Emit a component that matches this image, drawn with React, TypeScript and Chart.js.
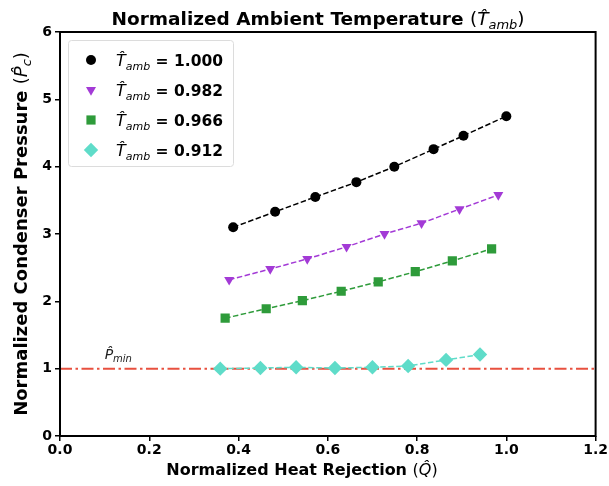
import React, { useEffect, useRef } from "react";
import { Chart, registerables } from "chart.js";

Chart.register(...registerables);

// ---- Data ----
const xTicks = [0.0, 0.2, 0.4, 0.6, 0.8, 1.0, 1.2];
const yTicks = [0, 1, 2, 3, 4, 5, 6];
const legendLabels = ["1.000", "0.982", "0.966", "0.912"];

const s1X = [0.388, 0.482, 0.572, 0.664, 0.749, 0.837, 0.904, 1.0];
const s1Y = [3.1, 3.33, 3.55, 3.77, 4.0, 4.26, 4.46, 4.75];

const s2X = [0.379, 0.471, 0.554, 0.642, 0.727, 0.81, 0.895, 0.982];
const s2Y = [2.32, 2.48, 2.63, 2.81, 3.0, 3.16, 3.37, 3.58];

const s3X = [0.37, 0.462, 0.543, 0.63, 0.713, 0.796, 0.879, 0.967];
const s3Y = [1.75, 1.89, 2.01, 2.15, 2.29, 2.44, 2.6, 2.78];

const s4X = [0.359, 0.449, 0.529, 0.616, 0.7, 0.78, 0.865, 0.941];
const s4Y = [1.0, 1.01, 1.02, 1.01, 1.02, 1.04, 1.13, 1.21];

const pMin = 1.0;

const colors = ["#000000", "#a33ad6", "#2e9b3a", "#5fdcc9"];
const shapes = ["circle", "triangle", "rect", "rectRot"];
const rotations = [0, 180, 0, 0];
const radii = [5, 5.8, 6.5, 7.2];

const FONT = "'DejaVu Sans', sans-serif";

type Piece = { t: string; font: string; dy?: number; color?: string };

function measure(ctx: CanvasRenderingContext2D, pieces: Piece[]) {
  let w = 0;
  for (const p of pieces) {
    ctx.font = p.font;
    w += ctx.measureText(p.t).width;
  }
  return w;
}

function drawRich(
  ctx: CanvasRenderingContext2D,
  pieces: Piece[],
  x: number,
  y: number,
  align: "left" | "center"
) {
  const w = measure(ctx, pieces);
  let cx = align === "center" ? x - w / 2 : x;
  ctx.textBaseline = "alphabetic";
  ctx.textAlign = "left";
  for (const p of pieces) {
    ctx.font = p.font;
    ctx.fillStyle = p.color || "#000";
    ctx.fillText(p.t, cx, y + (p.dy || 0));
    cx += ctx.measureText(p.t).width;
  }
}

function mathVar(base: string, sub: string, size: number, color = "#000"): Piece[] {
  return [
    { t: base + "\u0302", font: `italic ${size}px ${FONT}`, color },
    { t: sub, font: `italic ${Math.round(size * 0.7)}px ${FONT}`, dy: size * 0.22, color },
  ];
}

function drawPointShape(
  ctx: CanvasRenderingContext2D,
  shape: string,
  rotDeg: number,
  r: number,
  x: number,
  y: number
) {
  ctx.beginPath();
  if (shape === "circle") {
    ctx.arc(x, y, r, 0, Math.PI * 2);
  } else if (shape === "triangle") {
    const rot = (rotDeg * Math.PI) / 180;
    for (let k = 0; k < 3; k++) {
      const a = rot - Math.PI / 2 + (k * 2 * Math.PI) / 3;
      const px = x + Math.cos(a) * r;
      const py = y + Math.sin(a) * r;
      if (k === 0) ctx.moveTo(px, py);
      else ctx.lineTo(px, py);
    }
    ctx.closePath();
  } else if (shape === "rect") {
    const s = Math.SQRT1_2 * r;
    ctx.rect(x - s, y - s, 2 * s, 2 * s);
  } else {
    ctx.moveTo(x, y - r);
    ctx.lineTo(x + r, y);
    ctx.lineTo(x, y + r);
    ctx.lineTo(x - r, y);
    ctx.closePath();
  }
  ctx.fill();
}

const decorPlugin = {
  id: "decor",
  afterDatasetsDraw(chart: any) {
    const ctx: CanvasRenderingContext2D = chart.ctx;
    const { left, right, top, bottom } = chart.chartArea;
    const xs = chart.scales.x;
    const ys = chart.scales.y;
    ctx.save();

    // P_min annotation
    drawRich(
      ctx,
      [
        { t: "P\u0302", font: `italic 14px ${FONT}`, color: "#222" },
        { t: "min", font: `italic 10px ${FONT}`, dy: 3, color: "#222" },
      ],
      xs.getPixelForValue(0.1),
      ys.getPixelForValue(pMin) - 10,
      "left"
    );

    // Frame
    ctx.strokeStyle = "#000";
    ctx.lineWidth = 2;
    ctx.strokeRect(left, top, right - left, bottom - top);

    // Legend
    const lx = 68, ly = 40, lw = 165, lh = 126;
    ctx.fillStyle = "rgba(255,255,255,0.85)";
    ctx.strokeStyle = "#dcdcdc";
    ctx.lineWidth = 1;
    ctx.beginPath();
    (ctx as any).roundRect(lx + 0.5, ly + 0.5, lw, lh, 3);
    ctx.fill();
    ctx.stroke();
    for (let i = 0; i < legendLabels.length; i++) {
      const cy = ly + 20 + i * 30;
      ctx.fillStyle = colors[i];
      drawPointShape(ctx, shapes[i], rotations[i], radii[i], lx + 23, cy);
      drawRich(
        ctx,
        [
          ...mathVar("T", "amb", 16),
          { t: " = " + legendLabels[i], font: `bold 15.5px ${FONT}` },
        ],
        lx + 48,
        cy + 6,
        "left"
      );
    }

    // Title
    drawRich(
      ctx,
      [
        { t: "Normalized Ambient Temperature ", font: `bold 18.5px ${FONT}` },
        { t: "(", font: `18.5px ${FONT}` },
        ...mathVar("T", "amb", 18.5),
        { t: ")", font: `18.5px ${FONT}` },
      ],
      318,
      25,
      "center"
    );

    // X label
    drawRich(
      ctx,
      [
        { t: "Normalized Heat Rejection ", font: `bold 16px ${FONT}` },
        { t: "(", font: `16px ${FONT}` },
        { t: "Q\u0302", font: `italic 16px ${FONT}` },
        { t: ")", font: `16px ${FONT}` },
      ],
      302,
      475,
      "center"
    );

    // Y label
    ctx.save();
    ctx.translate(27, (top + bottom) / 2);
    ctx.rotate(-Math.PI / 2);
    drawRich(
      ctx,
      [
        { t: "Normalized Condenser Pressure ", font: `bold 18px ${FONT}` },
        { t: "(", font: `18px ${FONT}` },
        ...mathVar("P", "c", 18),
        { t: ")", font: `18px ${FONT}` },
      ],
      0,
      0,
      "center"
    );
    ctx.restore();

    ctx.restore();
  },
};

export default function App() {
  const ref = useRef<HTMLCanvasElement>(null);
  useEffect(() => {
    if (!ref.current) return;
    const mk = (xs: number[], ys: number[]) => xs.map((x, i) => ({ x, y: ys[i] }));
    const series = [mk(s1X, s1Y), mk(s2X, s2Y), mk(s3X, s3Y), mk(s4X, s4Y)];
    const datasets: any[] = series.map((d, i) => ({
      label: legendLabels[i],
      data: d,
      borderColor: colors[i],
      backgroundColor: colors[i],
      borderWidth: 1.5,
      borderDash: [5.5, 2.5],
      pointStyle: shapes[i],
      rotation: rotations[i],
      pointRadius: radii[i],
      pointBorderWidth: 0,
      pointHoverRadius: radii[i],
      tension: 0,
      fill: false,
      order: 1,
    }));
    datasets.push({
      label: "Pmin",
      data: [
        { x: xTicks[0], y: pMin },
        { x: xTicks[xTicks.length - 1], y: pMin },
      ],
      borderColor: "#e8503f",
      borderWidth: 2,
      borderDash: [12, 3.5, 2.5, 3.5],
      pointRadius: 0,
      fill: false,
      order: 2,
    });
    const chart = new Chart(ref.current, {
      type: "line",
      data: { datasets },
      options: {
        animation: false,
        responsive: false,
        events: [],
        layout: { padding: { left: 0, right: 12, top: 32, bottom: 0 } },
        plugins: { legend: { display: false }, tooltip: { enabled: false }, title: { display: false } },
        scales: {
          x: {
            type: "linear",
            min: xTicks[0],
            max: xTicks[xTicks.length - 1],
            afterBuildTicks: (s: any) => {
              s.ticks = xTicks.map((v) => ({ value: v }));
            },
            afterFit: (s: any) => {
              s.height = 50;
            },
            grid: { display: true, drawOnChartArea: false, drawTicks: true, tickLength: 5, color: "#000", lineWidth: 1.5 },
            border: { display: false },
            ticks: {
              color: "#000",
              font: { family: "DejaVu Sans", weight: "bold", size: 14 },
              padding: 1,
              maxRotation: 0,
              callback: (v: any) => Number(v).toFixed(1),
            },
          },
          y: {
            type: "linear",
            min: yTicks[0],
            max: yTicks[yTicks.length - 1],
            afterBuildTicks: (s: any) => {
              s.ticks = yTicks.map((v) => ({ value: v }));
            },
            afterFit: (s: any) => {
              s.width = 60;
            },
            grid: { display: true, drawOnChartArea: false, drawTicks: true, tickLength: 5, color: "#000", lineWidth: 1.5 },
            border: { display: false },
            ticks: {
              color: "#000",
              font: { family: "DejaVu Sans", weight: "bold", size: 14 },
              padding: 3,
              callback: (v: any) => String(v),
            },
          },
        },
      },
      plugins: [decorPlugin],
    });
    return () => chart.destroy();
  }, []);
  return (
    <div style={{ position: "fixed", left: 0, top: 0, width: 609, height: 486, background: "#fff" }}>
      <canvas ref={ref} width={609} height={486} style={{ display: "block" }} />
    </div>
  );
}
